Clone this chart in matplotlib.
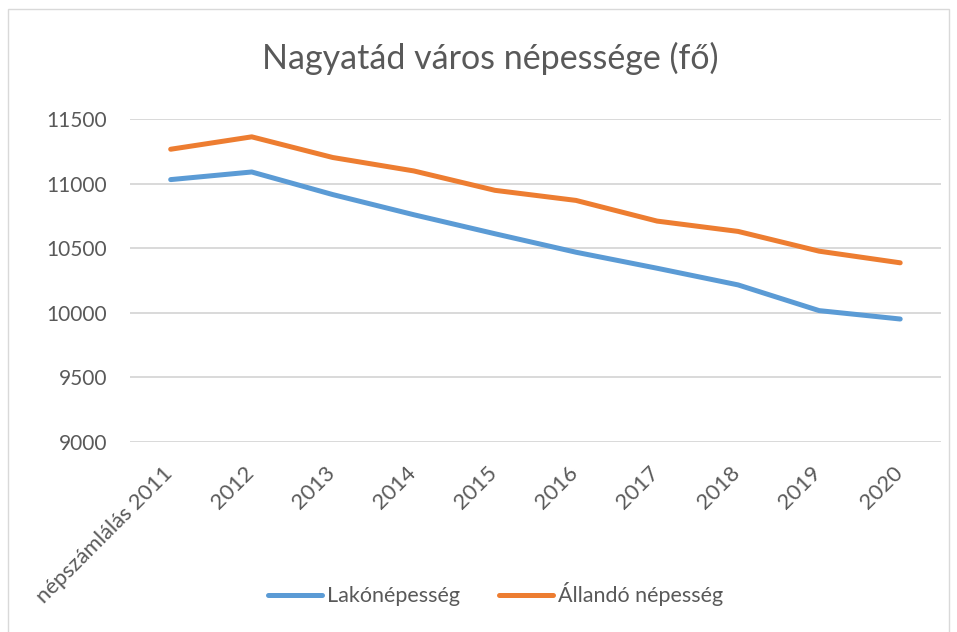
import matplotlib.pyplot as plt
import matplotlib.transforms as mtransforms
from matplotlib.patches import Rectangle

plt.rcParams['font.family'] = ['Lato', 'DejaVu Sans']

years = ['népszámlálás 2011', '2012', '2013', '2014', '2015',
         '2016', '2017', '2018', '2019', '2020']
lako = [11031, 11090, 10915, 10759, 10612, 10469, 10345, 10216, 10017, 9952]
allando = [11266, 11362, 11202, 11098, 10948, 10870, 10710, 10630, 10477, 10387]
yticks = [9000, 9500, 10000, 10500, 11000, 11500]

txt = '#595959'

fig = plt.figure(figsize=(9.57, 6.32), dpi=100)
ax = fig.add_axes([0.136, 0.3006, 0.847, 0.5111])

x = range(len(years))
ax.plot(x, lako, color='#5B9BD5', lw=3.6, solid_capstyle='round',
        solid_joinstyle='round', label='Lakónépesség')
ax.plot(x, allando, color='#ED7D31', lw=3.6, solid_capstyle='round',
        solid_joinstyle='round', label='Állandó népesség')

ax.set_xlim(-0.5, len(years) - 0.5)
ax.set_ylim(9000, 11500)
ax.set_yticks(yticks)
ax.set_yticklabels([str(v) for v in yticks])
ax.set_xticks(list(x))
ax.set_xticklabels(years, rotation=45, ha='right', rotation_mode='anchor')
ax.tick_params(axis='y', length=0, labelsize=15, colors=txt, pad=16.5)
ax.tick_params(axis='x', length=0, labelsize=15.8, colors=txt, pad=15)
# nudge the rotated labels a bit to the left
shift = mtransforms.ScaledTranslation(-8 / 100, 0, fig.dpi_scale_trans)
for lbl in ax.get_xticklabels():
    lbl.set_transform(lbl.get_transform() + shift)
ax.grid(axis='y', color='#D9D9D9', lw=1.4)
ax.set_axisbelow(True)
for s in ax.spines.values():
    s.set_visible(False)

fig.text(0.512, 0.908, 'Nagyatád város népessége (fő)', ha='center', va='center',
         fontsize=24.5, color=txt)

fig.legend(loc='center', bbox_to_anchor=(0.518, 0.06), ncol=2, frameon=False,
           fontsize=15.5, labelcolor=txt, handlelength=2.5, handletextpad=0.25,
           columnspacing=1.8)

fig.patches.append(Rectangle((0.008, -0.02), 0.984, 1.005, transform=fig.transFigure,
                             fill=False, edgecolor='#D9D9D9', lw=1))

fig.savefig('out.png', dpi=100)
